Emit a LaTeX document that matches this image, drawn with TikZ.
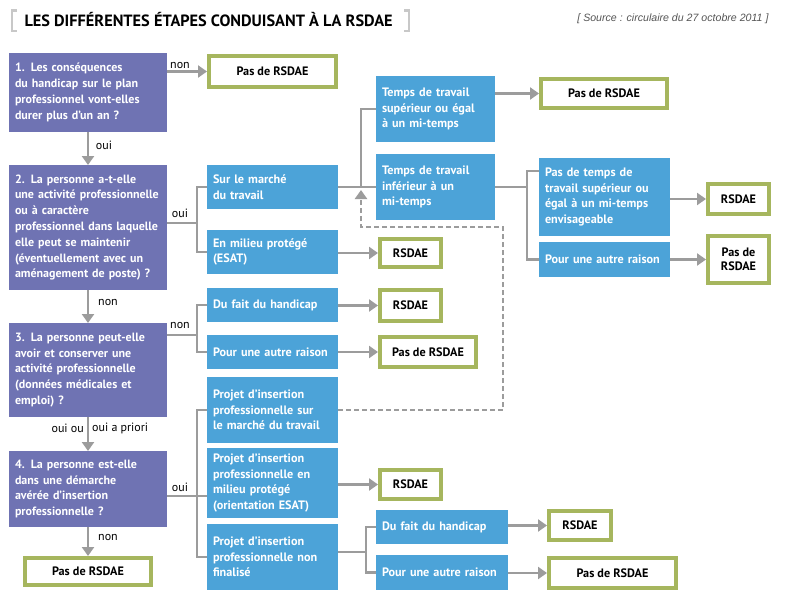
\documentclass[tikz,border=0pt]{standalone}
\usepackage{fontspec}
\setmainfont{PT Sans}
\newfontfamily\srcfont{Liberation Sans}
\usetikzlibrary{arrows.meta}
\definecolor{qpurple}{HTML}{6F73B3}
\definecolor{ablue}{HTML}{4CA3D8}
\definecolor{rgreen}{HTML}{A6B65E}
\definecolor{lgray}{HTML}{9C9C9C}
\definecolor{bgray}{HTML}{C8C8C8}
\definecolor{sgray}{HTML}{555555}

\begin{document}
\begin{tikzpicture}[x=1pt, y=-1pt,
  qbox/.style={fill=qpurple, text=white, font=\fontsize{12}{15.8}\selectfont\bfseries, align=left, text width=146pt, inner xsep=6pt, inner ysep=0pt, outer sep=0pt},
  abox/.style={fill=ablue, text=white, font=\fontsize{12.2}{15.6}\selectfont\bfseries, align=left, text width=119pt, inner xsep=6pt, inner ysep=0pt, outer sep=0pt},
  res/.style={draw=rgreen, line width=4pt, fill=white, font=\fontsize{12.2}{14.5}\selectfont\bfseries, align=center, inner sep=0pt},
  conn/.style={draw=lgray, line width=2.5pt},
  arr/.style={conn, -{Triangle[length=9pt,width=12pt]}},
  dashline/.style={conn, dash pattern=on 5pt off 3pt},
  lbl/.style={font=\fontsize{12}{13}\selectfont, inner sep=0pt}]

\fill[white] (0,0) rectangle (800,602);
\useasboundingbox (0,0) rectangle (800,602);

% title
\draw[bgray, line width=2.2pt] (17,10.5) -| (12,31) -- (17,31);
\draw[bgray, line width=2.2pt] (404,10.5) -| (409,31) -- (404,31);
\node[anchor=west, font=\fontsize{16.3}{18}\selectfont\bfseries] (title) at (21,20) {LES DIFFÉRENTES ÉTAPES CONDUISANT À LA RSDAE};
\node[anchor=east, font=\srcfont\itshape\fontsize{10.6}{12}\selectfont, text=sgray] (src) at (772,19) {[ Source : circulaire du 27 octobre 2011 ]};

% questions
\node[qbox, minimum height=79pt] (q1) at (88,92.5) {1. Les conséquences\\du handicap sur le plan\\professionnel vont-elles\\durer plus d’un an ?};
\node[qbox, minimum height=125pt] (q2) at (88,227.5) {2. La personne a-t-elle\\une activité professionnelle\\ou à caractère\\professionnel dans laquelle\\elle peut se maintenir\\(éventuellement avec un\\aménagement de poste) ?};
\node[qbox, minimum height=94pt] (q3) at (88,370) {3. La personne peut-elle\\avoir et conserver une\\activité professionnelle\\(données médicales et\\emploi) ?};
\node[qbox, minimum height=76pt] (q4) at (88,489) {4. La personne est-elle\\dans une démarche\\avérée d’insertion\\professionnelle ?};

% answers
\node[abox, minimum height=44pt] (marche) at (272.5,187) {Sur le marché\\du travail};
\node[abox, minimum height=44pt] (esat) at (272.5,252) {En milieu protégé\\(ESAT)};
\node[abox, text width=107pt, minimum height=66pt] (sup) at (435.5,109) {Temps de travail\\supérieur ou égal\\à un mi-temps};
\node[abox, text width=107pt, minimum height=66pt] (inf) at (435.5,187) {Temps de travail\\inférieur à un\\mi-temps};
\node[abox, minimum height=78pt] (pas) at (604.5,197) {Pas de temps de\\travail supérieur ou\\égal à un mi-temps\\envisageable};
\node[abox, minimum height=35pt] (autre1) at (604.5,259.5) {Pour une autre raison};
\node[abox, minimum height=34pt] (hand1) at (272.5,305) {Du fait du handicap};
\node[abox, minimum height=34pt] (autre2) at (272.5,352) {Pour une autre raison};
\node[abox, minimum height=66pt] (proj1) at (272.5,410) {Projet d’insertion\\professionnelle sur\\le marché du travail};
\node[abox, minimum height=70pt] (proj2) at (272.5,483) {Projet d’insertion\\professionnelle en\\milieu protégé\\(orientation ESAT)};
\node[abox, minimum height=66pt] (proj3) at (272.5,557) {Projet d’insertion\\professionnelle non\\finalisé};
\node[abox, text width=120pt, minimum height=34pt] (hand2) at (442,527) {Du fait du handicap};
\node[abox, text width=120pt, minimum height=35pt] (autre3) at (442,572.5) {Pour une autre raison};

% results
\node[res, minimum width=127pt, minimum height=31pt] (r1) at (272.5,71.5) {Pas de RSDAE};
\node[res, minimum width=61pt, minimum height=28pt] (resat) at (410.5,253) {RSDAE};
\node[res, minimum width=126pt, minimum height=29pt] (rsup) at (604,93.5) {Pas de RSDAE};
\node[res, minimum width=61pt, minimum height=30pt] (rpas) at (738.5,199) {RSDAE};
\node[res, minimum width=61pt, minimum height=47pt] (rautre1) at (738.5,259.5) {Pas de\\RSDAE};
\node[res, minimum width=61pt, minimum height=31pt] (rhand1) at (410.5,305.5) {RSDAE};
\node[res, minimum width=96pt, minimum height=30pt] (rautre2) at (428,352) {Pas de RSDAE};
\node[res, minimum width=61pt, minimum height=29pt] (rproj2) at (410.5,484.5) {RSDAE};
\node[res, minimum width=62pt, minimum height=29pt] (rhand2) at (580,525.5) {RSDAE};
\node[res, minimum width=127pt, minimum height=30pt] (rautre3) at (612.5,573) {Pas de RSDAE};
\node[res, minimum width=126pt, minimum height=27pt] (r4) at (88,571.5) {Pas de RSDAE};

% labels
\node[lbl] (lnon1) at (180,65) {non};
\node[lbl] (loui1) at (104,145) {oui};
\node[lbl] (loui2) at (180,213) {oui};
\node[lbl] (lnon2) at (108,302) {non};
\node[lbl] (lnon3) at (180,325) {non};
\node[lbl, anchor=east] (louiou) at (84,428) {oui ou};
\node[lbl, anchor=west] (lprio) at (92,428) {oui a priori};
\node[lbl] (loui4) at (180,487) {oui};
\node[lbl] (lnon4) at (108,537) {non};

% junctions
\coordinate (j2) at (197,223);
\coordinate (j3) at (361,187);
\coordinate (j4) at (527,187);
\coordinate (j4a) at (527,171);
\coordinate (j5) at (197,335);
\coordinate (j6) at (197,496);
\coordinate (j7) at (366,552);
\coordinate (dk) at (503,227);
\coordinate (dtip) at (361,190);

% vertical flow
\draw[arr] (q1) -- (q2);
\draw[arr] (q2) -- (q3);
\draw[arr] (q3) -- (q4);
\draw[arr] (q4) -- (r4);

% question 1
\draw[arr] (q1.east |- r1) -- (r1.west);

% question 2
\draw[conn] (q2.east |- j2) -- (j2);
\draw[conn] (marche.west) -| (j2) |- (esat.west);
\draw[arr] (esat.east |- resat) -- (resat.west);
\draw[conn] (marche.east) -- (inf.west);
\draw[conn] (j3) |- (sup.west);
\draw[arr] (sup.east |- rsup) -- (rsup.west);
\draw[conn] (inf.east) -- (j4);
\draw[conn] (pas.west |- j4a) -- (j4a) |- (autre1.west);
\draw[arr] (pas.east |- rpas) -- (rpas.west);
\draw[arr] (autre1.east) -- (rautre1.west);

% question 3
\draw[conn] (q3.east |- j5) -- (j5);
\draw[conn] (hand1.west) -| (j5) |- (autre2.west);
\draw[arr] (hand1.east |- rhand1) -- (rhand1.west);
\draw[arr] (autre2.east) -- (rautre2.west);

% question 4
\draw[conn] (q4.east |- j6) -- (proj2.west |- j6);
\draw[conn] (proj1.west) -| (j6) |- (proj3.west);
\draw[arr] (proj2.east |- rproj2) -- (rproj2.west);
\draw[conn] (proj3.east |- j7) -- (j7);
\draw[conn] (hand2.west) -| (j7) |- (autre3.west);
\draw[arr] (hand2.east |- rhand2) -- (rhand2.west);
\draw[arr] (autre3.east |- rautre3) -- (rautre3.west);

% back to the labour market
\draw[dashline, -{Triangle[length=9pt,width=12pt]}] (proj1.east) -| (dk) -| (dtip);
\end{tikzpicture}
\end{document}
